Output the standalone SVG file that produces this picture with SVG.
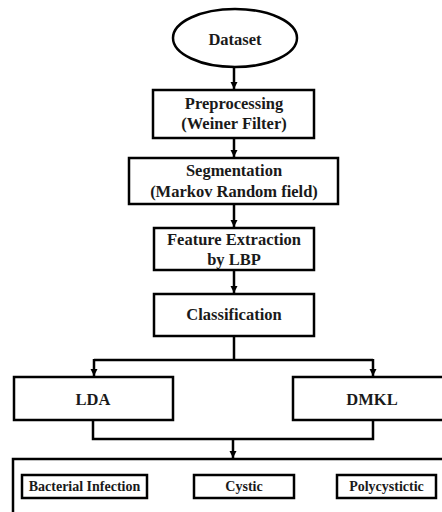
<svg xmlns="http://www.w3.org/2000/svg" width="442" height="512" viewBox="0 0 442 512">
<defs>
<style>
.n{fill:#fff;stroke:#000;stroke-width:2.5}
.t{font-family:"Liberation Serif","Times New Roman",serif;font-weight:bold;font-size:16.5px;fill:#1a1a1a;text-anchor:middle}
.s{font-size:14px}
.c{fill:none;stroke:#000;stroke-width:2.5}
</style>
<marker id="ah" viewBox="0 0 10 10" refX="10" refY="5" markerWidth="3" markerHeight="3.4" orient="auto" markerUnits="strokeWidth">
<path d="M0,0 L10,5 L0,10 z" fill="#000"/>
</marker>
</defs>
<rect width="442" height="512" fill="#fff"/>
<g id="connectors">
<path class="c" d="M234,67 V89" marker-end="url(#ah)"/>
<path class="c" d="M234,138 V157" marker-end="url(#ah)"/>
<path class="c" d="M234,204 V227" marker-end="url(#ah)"/>
<path class="c" d="M234,270 V293" marker-end="url(#ah)"/>
<path class="c" d="M234,336 V360"/>
<path class="c" d="M94,360 H373"/>
<path class="c" d="M94,359 V376" marker-end="url(#ah)"/>
<path class="c" d="M373,359 V376" marker-end="url(#ah)"/>
<path class="c" d="M93,420 V439 H373 V420"/>
<path class="c" d="M233,439 V458" marker-end="url(#ah)"/>
</g>
<g id="dataset">
<ellipse class="n" cx="235" cy="38" rx="62" ry="29"/>
<text class="t" x="235" y="45">Dataset</text>
</g>
<g id="preprocessing">
<rect class="n" x="153" y="90" width="161" height="48"/>
<text class="t" x="234" y="109">Preprocessing</text>
<text class="t" x="234" y="129">(Weiner Filter)</text>
</g>
<g id="segmentation">
<rect class="n" x="129" y="158" width="209" height="46"/>
<text class="t" x="234" y="176">Segmentation</text>
<text class="t" x="234" y="197">(Markov Random field)</text>
</g>
<g id="feature">
<rect class="n" x="154" y="228" width="160" height="42"/>
<text class="t" x="234" y="245">Feature Extraction</text>
<text class="t" x="234" y="265">by LBP</text>
</g>
<g id="classification">
<rect class="n" x="154" y="294" width="160" height="42"/>
<text class="t" x="234" y="320">Classification</text>
</g>
<g id="lda">
<rect class="n" x="14" y="377" width="159" height="43"/>
<text class="t" x="93" y="405">LDA</text>
</g>
<g id="dmkl">
<rect class="n" x="293" y="377" width="160" height="43"/>
<text class="t" x="372" y="405">DMKL</text>
</g>
<g id="outcomes">
<rect class="n" x="13" y="459" width="440" height="60"/>
<g id="bacterial">
<rect class="n" x="22" y="475" width="125" height="23"/>
<text class="t s" x="84.5" y="491">Bacterial Infection</text>
</g>
<g id="cystic">
<rect class="n" x="194" y="475" width="100" height="23"/>
<text class="t s" x="244" y="491">Cystic</text>
</g>
<g id="polycystictic">
<rect class="n" x="337" y="475" width="99" height="23"/>
<text class="t s" x="386.5" y="491">Polycystictic</text>
</g>
</g>
</svg>
